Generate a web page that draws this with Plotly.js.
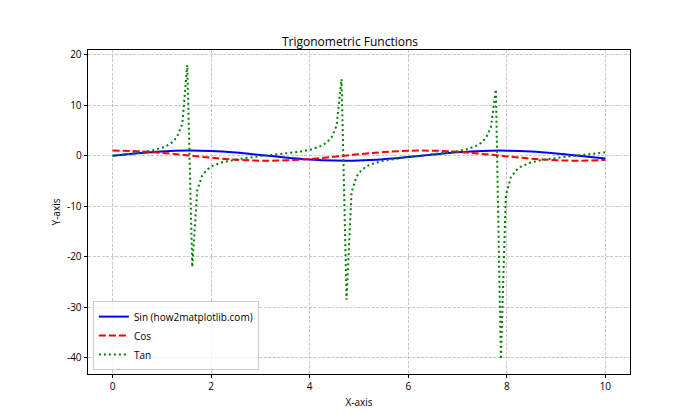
<!DOCTYPE html>
<html>
<head>
<meta charset="utf-8">
<script src="https://cdn.plot.ly/plotly-3.0.1.min.js"></script>
<style>
  body { margin: 0; background: #fff; }
  #chart { width: 700px; height: 420px; }
</style>
</head>
<body>
<div id="chart"></div>
<script>
// sin / cos read at half-unit steps
const xTrig = [0, 0.5, 1, 1.5, 2, 2.5, 3, 3.5, 4, 4.5, 5, 5.5, 6, 6.5, 7, 7.5, 8, 8.5, 9, 9.5, 10];
const sinVals = [0, 0.479, 0.841, 0.997, 0.909, 0.598, 0.141, -0.351, -0.757, -0.978, -0.959,
  -0.706, -0.279, 0.215, 0.657, 0.938, 0.989, 0.798, 0.412, -0.075, -0.544];
const cosVals = [1, 0.878, 0.540, 0.071, -0.416, -0.801, -0.990, -0.936, -0.654, -0.211, 0.284,
  0.709, 0.960, 0.977, 0.754, 0.347, -0.146, -0.602, -0.911, -0.997, -0.839];

// tan, denser around the jumps
const xTan = [0, 0.202, 0.404, 0.606, 0.808, 0.909, 1.010, 1.111, 1.212, 1.313, 1.414, 1.515,
  1.616, 1.717, 1.818, 1.919, 2.020, 2.222, 2.424, 2.626, 2.828, 3.030, 3.232, 3.434, 3.636,
  3.838, 4.040, 4.141, 4.242, 4.343, 4.444, 4.545, 4.646, 4.747, 4.848, 4.949, 5.051, 5.152,
  5.253, 5.455, 5.657, 5.859, 6.061, 6.263, 6.364, 6.566, 6.768, 6.970, 7.172, 7.273, 7.374,
  7.475, 7.576, 7.677, 7.778, 7.879, 7.980, 8.081, 8.182, 8.283, 8.485, 8.687, 8.889, 9.091,
  9.293, 9.394, 9.495, 9.697, 9.899, 10];
const tanVals = [0, 0.205, 0.427, 0.696, 1.047, 1.284, 1.592, 2.019, 2.67, 3.797, 6.331, 17.95,
  -22.03, -6.783, -3.951, -2.753, -2.075, -1.311, -0.872, -0.566, -0.324, -0.112, 0.091, 0.301, 0.540,
  0.837, 1.257, 1.557, 1.969, 2.586, 3.643, 5.935, 15.14, -28.49, -7.303, -4.138, -2.844, -2.128,
  -1.667, -1.090, -0.724, -0.452, -0.226, -0.021, 0.081, 0.290, 0.526, 0.819, 1.231, 1.522, 1.920,
  2.509, 3.501, 5.584, 13.10, -40.30, -7.906, -4.333, -2.940, -2.186, -1.369, -0.909, -0.594, -0.347,
  -0.133, -0.031, 0.070, 0.279, 0.513, 0.648];

const xTicks = [0, 2, 4, 6, 8, 10];
const yTicks = [-40, -30, -20, -10, 0, 10, 20];
const yTickText = ['-40', '-30', '-20', '-10', '0', '10', '20'];

const fontFam = '"Open Sans", "DejaVu Sans", sans-serif';

const data = [
  {x: xTrig, y: sinVals, type: 'scatter', mode: 'lines', name: 'Sin (how2matplotlib.com)',
   line: {color: '#0000ff', width: 2, shape: 'spline'}},
  {x: xTrig, y: cosVals, type: 'scatter', mode: 'lines', name: 'Cos',
   line: {color: '#ff0000', width: 2, dash: '7px,3px', shape: 'spline'}},
  {x: xTan, y: tanVals, type: 'scatter', mode: 'lines', name: 'Tan',
   line: {color: '#008000', width: 2, dash: '2px,3px'}}
];

const axisCommon = {
  showline: true, mirror: true, linecolor: '#000', linewidth: 0.8,
  ticks: 'outside', ticklen: 3.5, tickcolor: '#000', tickwidth: 0.8,
  showgrid: true, gridcolor: 'rgba(176,176,176,0.7)', griddash: '3px,1.5px', gridwidth: 0.8,
  zeroline: false, tickfont: {family: fontFam, size: 10, color: '#000'}
};

const layout = {
  width: 700, height: 420,
  margin: {l: 88, r: 70, t: 50, b: 46},
  paper_bgcolor: '#fff', plot_bgcolor: '#fff',
  font: {family: fontFam, color: '#000'},
  title: {text: 'Trigonometric Functions', font: {family: fontFam, size: 12, color: '#000'},
          x: 0.5, xanchor: 'center', y: 0.9, yanchor: 'middle'},
  xaxis: Object.assign({}, axisCommon, {
    range: [-0.5, 10.5], tickvals: xTicks,
    title: {text: 'X-axis', font: {family: fontFam, size: 10}, standoff: 6}
  }),
  yaxis: Object.assign({}, axisCommon, {
    range: [-43.2, 20.9], tickvals: yTicks, ticktext: yTickText,
    title: {text: 'Y-axis', font: {family: fontFam, size: 10}, standoff: 4}
  }),
  showlegend: true,
  legend: {
    x: 0.009, y: 0.012, xanchor: 'left', yanchor: 'bottom',
    bgcolor: 'rgba(255,255,255,0.8)', bordercolor: '#cccccc', borderwidth: 1,
    font: {family: fontFam, size: 10, color: '#000'}, tracegroupgap: 0,
    itemwidth: 30
  }
};

Plotly.newPlot('chart', data, layout, {displayModeBar: false});
</script>
</body>
</html>
